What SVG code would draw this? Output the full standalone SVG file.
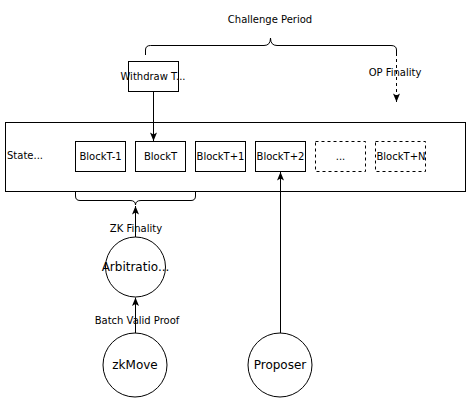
<svg xmlns="http://www.w3.org/2000/svg" width="471" height="403" viewBox="0 0 471 403">
<style>
.s{fill:#fff;stroke:#000;stroke-width:1}
.d{stroke-dasharray:3 3}
.t{font-family:"DejaVu Sans",sans-serif;font-size:10px;fill:#000;text-anchor:middle}
.c{font-size:12px}
.l{fill:none;stroke:#000;stroke-width:1}
</style>
<defs>
<marker id="arr" viewBox="0 0 10 8" refX="9.5" refY="4" markerWidth="10" markerHeight="8" orient="auto" markerUnits="userSpaceOnUse">
<path d="M1,0.5 L9.5,4 L1,7.5 L3,4 Z" fill="#000"/>
</marker>
<clipPath id="clipN"><rect x="375" y="141" width="50.5" height="31"/></clipPath>
</defs>
<rect width="471" height="403" fill="#fff"/>
<g id="state">
<rect class="s" x="5.5" y="122.5" width="460" height="69"/>
<text class="t" x="7" y="159" style="text-anchor:start">State...</text>
</g>
<g id="blockT-1"><rect class="s" x="75.5" y="141.5" width="50" height="30"/><text class="t" x="100.5" y="160">BlockT-1</text></g>
<g id="blockT"><rect class="s" x="135.5" y="141.5" width="50" height="30"/><text class="t" x="160.5" y="160">BlockT</text></g>
<g id="blockT+1"><rect class="s" x="195.5" y="141.5" width="50" height="30"/><text class="t" x="220.5" y="160">BlockT+1</text></g>
<g id="blockT+2"><rect class="s" x="255.5" y="141.5" width="50" height="30"/><text class="t" x="280.5" y="160">BlockT+2</text></g>
<g id="dots"><rect class="s d" x="315.5" y="141.5" width="50" height="30"/><text class="t" x="340.5" y="160">...</text></g>
<g id="blockT+N"><rect class="s d" x="375.5" y="141.5" width="50" height="30"/><text class="t" x="401" y="160" clip-path="url(#clipN)">BlockT+N</text></g>
<g id="withdraw"><rect class="s" x="128.5" y="61.5" width="50" height="30"/><text class="t" x="153" y="80">Withdraw T...</text></g>
<g id="arbitration"><circle class="s" cx="135.5" cy="267" r="30"/><text class="t c" x="135.5" y="271">Arbitratio...</text></g>
<g id="zkmove"><circle class="s" cx="135" cy="365" r="32"/><text class="t c" x="135" y="369">zkMove</text></g>
<g id="proposer"><circle class="s" cx="280" cy="365" r="32"/><text class="t c" x="280" y="369">Proposer</text></g>
<g id="challenge-brace">
<path class="l" d="M145.5,55 L145.5,50 Q145.5,45.5 150.5,45.5 L264,45.5 Q270.5,45.5 270.5,38 Q270.5,45.5 277,45.5 L391,45.5 Q396.5,45.5 396.5,50 L396.5,53"/>
<text class="t" x="270" y="23">Challenge Period</text>
</g>
<g id="zk-brace">
<path class="l" d="M75.5,191 L75.5,196 Q75.5,200.5 80,200.5 L130,200.5 Q135.5,200.5 135.5,205 Q135.5,200.5 141,200.5 L191,200.5 Q195.5,200.5 195.5,196 L195.5,191"/>
</g>
<g id="connectors">
<line class="l" x1="153.5" y1="91.5" x2="153.5" y2="141" marker-end="url(#arr)"/>
<line class="l d" x1="396.5" y1="53" x2="396.5" y2="102" marker-end="url(#arr)"/>
<line class="l" x1="280.5" y1="333" x2="280.5" y2="172" marker-end="url(#arr)"/>
<line class="l" x1="135.5" y1="237" x2="135.5" y2="206" marker-end="url(#arr)"/>
<line class="l" x1="135.5" y1="333" x2="135.5" y2="297.5" marker-end="url(#arr)"/>
<text class="t" x="395" y="76">OP Finality</text>
<text class="t" x="136" y="232">ZK Finality</text>
<text class="t" x="137" y="324">Batch Valid Proof</text>
</g>
</svg>
